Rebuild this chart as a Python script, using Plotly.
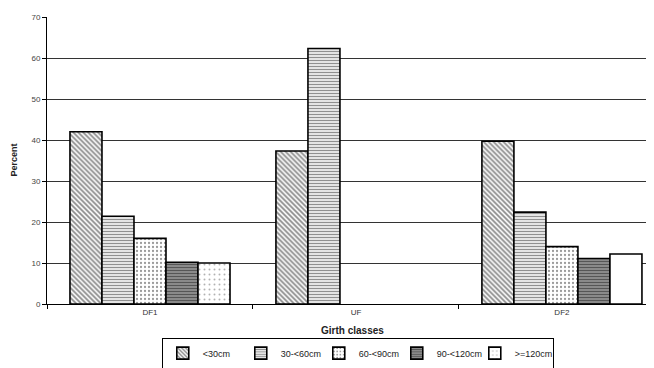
import plotly.graph_objects as go

categories = ["DF1", "UF", "DF2"]
series_names = ["<30cm", "30-<60cm", "60-<90cm", "90-<120cm", ">=120cm"]
v_lt30 = [42.0, 37.3, 39.7]
v_30_60 = [21.4, 62.3, 22.4]
v_60_90 = [16.0, None, 14.0]
v_90_120 = [10.2, None, 11.1]
v_ge120 = [10.0, None, 12.2]
y_ticks = [0, 10, 20, 30, 40, 50, 60, 70]

values = [v_lt30, v_30_60, v_60_90, v_90_120, v_ge120]
patterns = [
    dict(shape="\\", fgcolor="#111", bgcolor="white", size=3.5, solidity=0.5),
    dict(shape="-", fgcolor="#222", bgcolor="white", size=3, solidity=0.5),
    dict(shape=".", fgcolor="#333", bgcolor="white", size=4, solidity=0.25),
    dict(shape="-", fgcolor="#111", bgcolor="#9a9a9a", size=3, solidity=0.5),
    dict(shape=[".", "", ""], fgcolor="#666", bgcolor="white", size=5, solidity=0.12),
]

fig = go.Figure()
for name, vals, pat in zip(series_names, values, patterns):
    fig.add_trace(go.Bar(
        x=categories, y=vals, name=name,
        marker=dict(color="white", line=dict(color="black", width=1.6), pattern=pat),
    ))

fig.update_layout(
    width=646, height=360,
    barmode="group", bargap=0.223, bargroupgap=0,
    paper_bgcolor="white", plot_bgcolor="white",
    margin=dict(l=39, r=0, t=9, b=64, autoexpand=False),
    font=dict(family="Liberation Sans, Arial, sans-serif", size=8, color="#333"),
    showlegend=True,
    legend=dict(
        orientation="h", x=0.512, xanchor="center", y=-0.171, yanchor="middle",
        bordercolor="black", borderwidth=1, bgcolor="white",
        font=dict(size=9, color="#222"), tracegroupgap=0,
        entrywidth=33, entrywidthmode="pixels", itemwidth=30,
    ),
    xaxis=dict(
        range=[-0.5, 2.447], showgrid=False, showline=True, linecolor="black", linewidth=1,
        ticks="outside", tickson="boundaries", ticklen=4, tickcolor="black",
        tickfont=dict(size=8, color="#333"), fixedrange=True,
    ),
    yaxis=dict(
        range=[0, 70], tickvals=y_ticks, showgrid=True, gridcolor="#333", gridwidth=1,
        showline=True, linecolor="black", linewidth=1, ticks="outside", ticklen=4,
        tickcolor="black", tickfont=dict(size=8, color="#444"), zeroline=False,
    ),
    annotations=[
        dict(text="<b>Girth classes</b>", xref="paper", yref="paper", x=0.504, y=-0.094,
             showarrow=False, font=dict(size=10, color="#222"), xanchor="center", yanchor="middle"),
        dict(text="<b>Percent</b>", xref="paper", yref="paper", x=-0.056, y=0.50,
             showarrow=False, textangle=-90, font=dict(size=9, color="#222"),
             xanchor="center", yanchor="middle"),
    ],
)

fig.write_html("out.html")
